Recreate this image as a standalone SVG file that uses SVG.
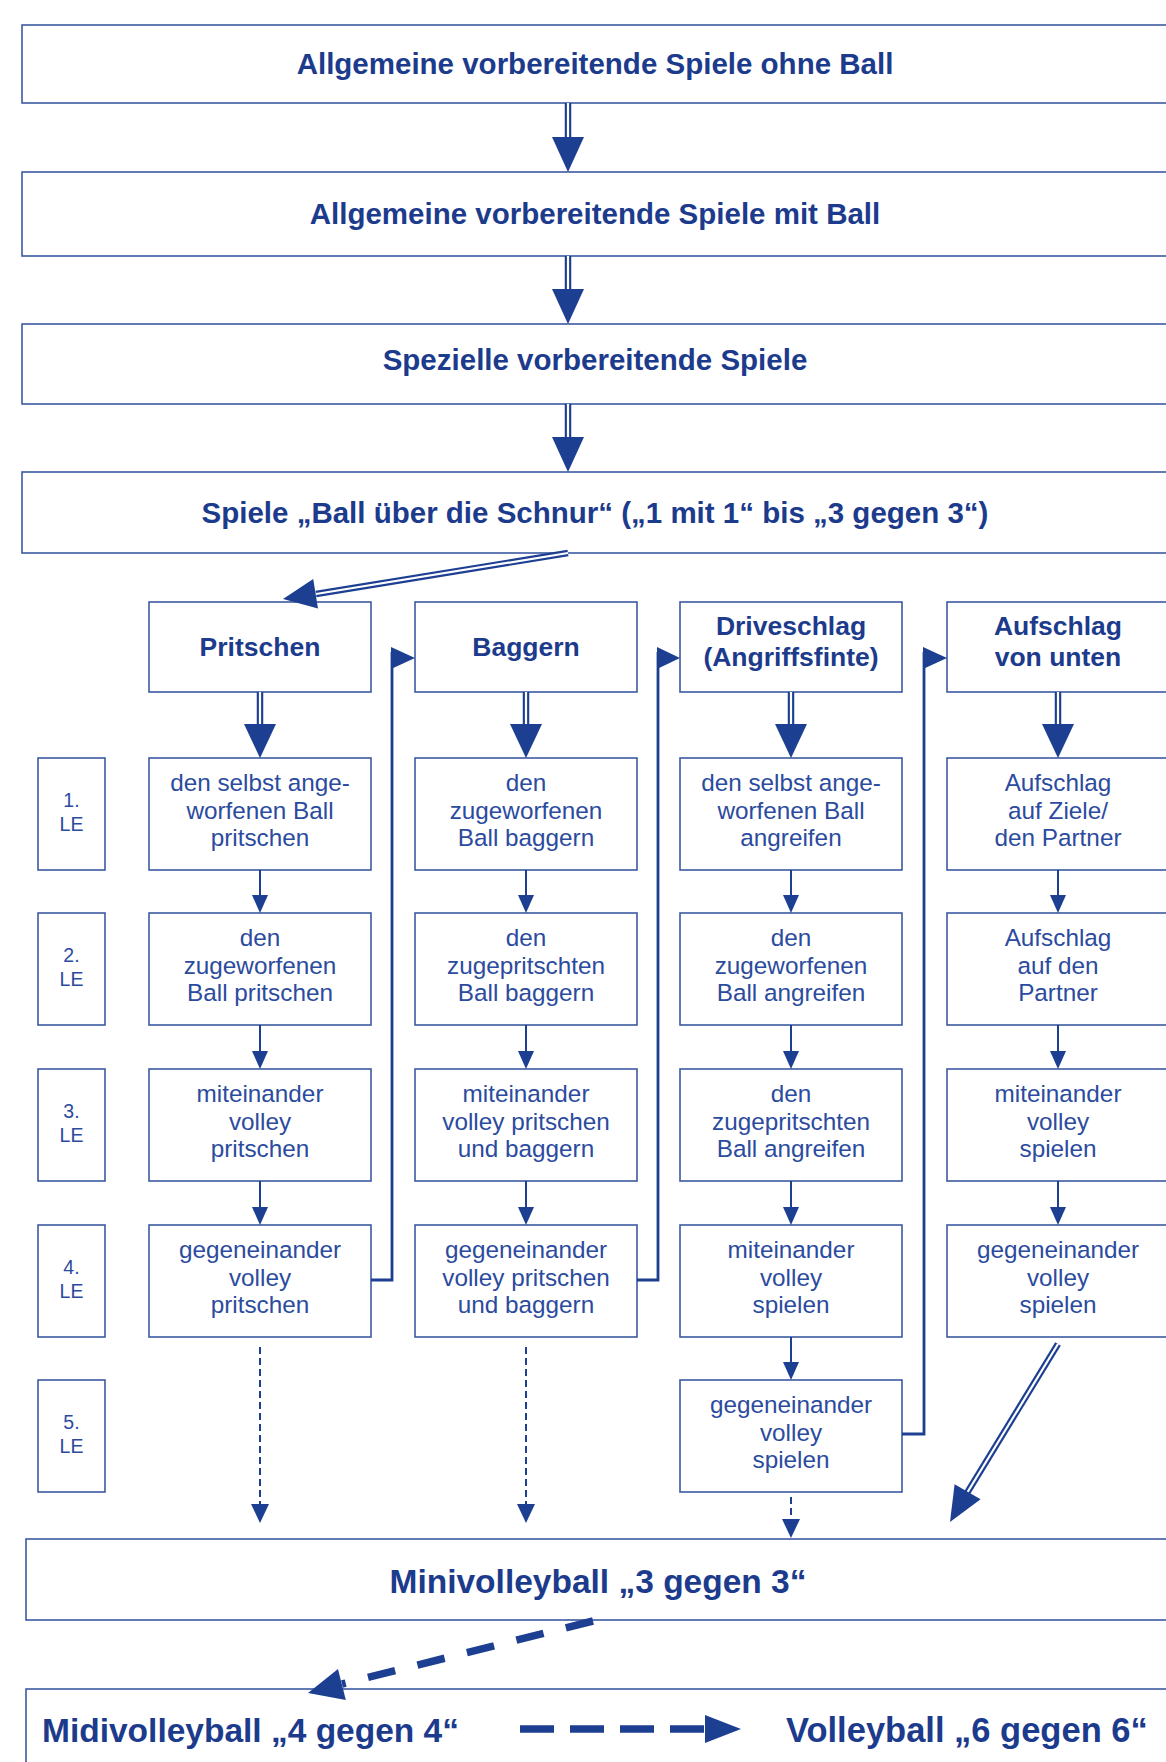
<svg xmlns="http://www.w3.org/2000/svg" width="1166" height="1762" viewBox="0 0 1166 1762">
<style>
.bx{fill:#fff;stroke:#3d5aa3;stroke-width:1.6}
.big{font-family:"Liberation Sans",Arial,sans-serif;font-weight:bold;fill:#1c3b8c;font-size:29.5px;text-anchor:middle}
.hd{font-family:"Liberation Sans",Arial,sans-serif;font-weight:bold;fill:#1c3b8c;font-size:26.5px;text-anchor:middle}
.t{font-family:"Liberation Sans",Arial,sans-serif;fill:#2b4b9e;font-size:24.3px;text-anchor:middle}
.le{font-family:"Liberation Sans",Arial,sans-serif;fill:#2b4b9e;font-size:19.5px;text-anchor:middle}
.bot{font-family:"Liberation Sans",Arial,sans-serif;font-weight:bold;fill:#1c3b8c;font-size:33.5px}
.dbl{stroke:#1d3f92;stroke-width:6.5;fill:none}
.dbi{stroke:#fff;stroke-width:2.2;fill:none}
.ah{fill:#1d3f92;stroke:none}
.ln{stroke:#1d3f92;stroke-width:2;fill:none}
.ln3{stroke:#1d3f92;stroke-width:2.8;fill:none}
.dsh{stroke:#1d3f92;stroke-width:2;fill:none;stroke-dasharray:7 4}
.thk{stroke:#1d3f92;stroke-width:7.5;fill:none}
</style>
<rect width="1166" height="1762" fill="#fff"/>

<!-- top boxes -->
<g id="n_ohne"><rect class="bx" x="22" y="25" width="1170" height="78"/><text class="big" x="595" y="74">Allgemeine vorbereitende Spiele ohne Ball</text></g>
<g id="n_mit"><rect class="bx" x="22" y="172" width="1170" height="84"/><text class="big" x="595" y="224">Allgemeine vorbereitende Spiele mit Ball</text></g>
<g id="n_spez"><rect class="bx" x="22" y="324" width="1170" height="80"/><text class="big" x="595" y="370">Spezielle vorbereitende Spiele</text></g>
<g id="n_schnur"><rect class="bx" x="22" y="472" width="1170" height="81"/><text class="big" x="595" y="523">Spiele „Ball über die Schnur“ („1 mit 1“ bis „3 gegen 3“)</text></g>

<!-- column headers -->
<g id="h_pritschen"><rect class="bx" x="149" y="602" width="222" height="90"/><text class="hd" x="260" y="656">Pritschen</text></g>
<g id="h_baggern"><rect class="bx" x="415" y="602" width="222" height="90"/><text class="hd" x="526" y="656">Baggern</text></g>
<g id="h_drive"><rect class="bx" x="680" y="602" width="222" height="90"/><text class="hd" x="791" y="635">Driveschlag</text><text class="hd" x="791" y="666">(Angriffsfinte)</text></g>
<g id="h_aufschlag"><rect class="bx" x="947" y="602" width="222" height="90"/><text class="hd" x="1058" y="635">Aufschlag</text><text class="hd" x="1058" y="666">von unten</text></g>

<!-- LE boxes -->
<g id="le1"><rect class="bx" x="38" y="758" width="67" height="112"/><text class="le" x="71.5" y="807">1.</text><text class="le" x="71.5" y="831">LE</text></g>
<g id="le2"><rect class="bx" x="38" y="913" width="67" height="112"/><text class="le" x="71.5" y="962">2.</text><text class="le" x="71.5" y="986">LE</text></g>
<g id="le3"><rect class="bx" x="38" y="1069" width="67" height="112"/><text class="le" x="71.5" y="1118">3.</text><text class="le" x="71.5" y="1142">LE</text></g>
<g id="le4"><rect class="bx" x="38" y="1225" width="67" height="112"/><text class="le" x="71.5" y="1274">4.</text><text class="le" x="71.5" y="1298">LE</text></g>
<g id="le5"><rect class="bx" x="38" y="1380" width="67" height="112"/><text class="le" x="71.5" y="1429">5.</text><text class="le" x="71.5" y="1453">LE</text></g>

<!-- Pritschen column -->
<g id="p1"><rect class="bx" x="149" y="758" width="222" height="112"/><text class="t" x="260" y="791">den selbst ange-</text><text class="t" x="260" y="818.5">worfenen Ball</text><text class="t" x="260" y="846">pritschen</text></g>
<g id="p2"><rect class="bx" x="149" y="913" width="222" height="112"/><text class="t" x="260" y="946">den</text><text class="t" x="260" y="973.5">zugeworfenen</text><text class="t" x="260" y="1001">Ball pritschen</text></g>
<g id="p3"><rect class="bx" x="149" y="1069" width="222" height="112"/><text class="t" x="260" y="1102">miteinander</text><text class="t" x="260" y="1129.5">volley</text><text class="t" x="260" y="1157">pritschen</text></g>
<g id="p4"><rect class="bx" x="149" y="1225" width="222" height="112"/><text class="t" x="260" y="1258">gegeneinander</text><text class="t" x="260" y="1285.5">volley</text><text class="t" x="260" y="1313">pritschen</text></g>

<!-- Baggern column -->
<g id="b1"><rect class="bx" x="415" y="758" width="222" height="112"/><text class="t" x="526" y="791">den</text><text class="t" x="526" y="818.5">zugeworfenen</text><text class="t" x="526" y="846">Ball baggern</text></g>
<g id="b2"><rect class="bx" x="415" y="913" width="222" height="112"/><text class="t" x="526" y="946">den</text><text class="t" x="526" y="973.5">zugepritschten</text><text class="t" x="526" y="1001">Ball baggern</text></g>
<g id="b3"><rect class="bx" x="415" y="1069" width="222" height="112"/><text class="t" x="526" y="1102">miteinander</text><text class="t" x="526" y="1129.5">volley pritschen</text><text class="t" x="526" y="1157">und baggern</text></g>
<g id="b4"><rect class="bx" x="415" y="1225" width="222" height="112"/><text class="t" x="526" y="1258">gegeneinander</text><text class="t" x="526" y="1285.5">volley pritschen</text><text class="t" x="526" y="1313">und baggern</text></g>

<!-- Driveschlag column -->
<g id="d1"><rect class="bx" x="680" y="758" width="222" height="112"/><text class="t" x="791" y="791">den selbst ange-</text><text class="t" x="791" y="818.5">worfenen Ball</text><text class="t" x="791" y="846">angreifen</text></g>
<g id="d2"><rect class="bx" x="680" y="913" width="222" height="112"/><text class="t" x="791" y="946">den</text><text class="t" x="791" y="973.5">zugeworfenen</text><text class="t" x="791" y="1001">Ball angreifen</text></g>
<g id="d3"><rect class="bx" x="680" y="1069" width="222" height="112"/><text class="t" x="791" y="1102">den</text><text class="t" x="791" y="1129.5">zugepritschten</text><text class="t" x="791" y="1157">Ball angreifen</text></g>
<g id="d4"><rect class="bx" x="680" y="1225" width="222" height="112"/><text class="t" x="791" y="1258">miteinander</text><text class="t" x="791" y="1285.5">volley</text><text class="t" x="791" y="1313">spielen</text></g>
<g id="d5"><rect class="bx" x="680" y="1380" width="222" height="112"/><text class="t" x="791" y="1413">gegeneinander</text><text class="t" x="791" y="1440.5">volley</text><text class="t" x="791" y="1468">spielen</text></g>

<!-- Aufschlag column -->
<g id="a1"><rect class="bx" x="947" y="758" width="222" height="112"/><text class="t" x="1058" y="791">Aufschlag</text><text class="t" x="1058" y="818.5">auf Ziele/</text><text class="t" x="1058" y="846">den Partner</text></g>
<g id="a2"><rect class="bx" x="947" y="913" width="222" height="112"/><text class="t" x="1058" y="946">Aufschlag</text><text class="t" x="1058" y="973.5">auf den</text><text class="t" x="1058" y="1001">Partner</text></g>
<g id="a3"><rect class="bx" x="947" y="1069" width="222" height="112"/><text class="t" x="1058" y="1102">miteinander</text><text class="t" x="1058" y="1129.5">volley</text><text class="t" x="1058" y="1157">spielen</text></g>
<g id="a4"><rect class="bx" x="947" y="1225" width="222" height="112"/><text class="t" x="1058" y="1258">gegeneinander</text><text class="t" x="1058" y="1285.5">volley</text><text class="t" x="1058" y="1313">spielen</text></g>

<!-- bottom boxes -->
<g id="n_mini"><rect class="bx" x="26" y="1539" width="1170" height="81"/><text class="big" style="font-size:33.5px" x="598" y="1593">Minivolleyball „3 gegen 3“</text></g>
<g id="n_bottom"><rect class="bx" x="26" y="1689" width="1170" height="100"/><text class="bot" x="42" y="1742">Midivolleyball „4 gegen 4“</text><text class="bot" x="786" y="1742" style="font-size:34.5px">Volleyball „6 gegen 6“</text></g>

<!-- connectors -->
<g id="connectors">
  <!-- top double arrows -->
  <line class="dbl" x1="568" y1="103" x2="568" y2="139"/><line class="dbi" x1="568" y1="103" x2="568" y2="139"/>
  <polygon class="ah" points="552,137 584,137 568,172"/>
  <line class="dbl" x1="568" y1="256" x2="568" y2="291"/><line class="dbi" x1="568" y1="256" x2="568" y2="291"/>
  <polygon class="ah" points="552,289 584,289 568,324"/>
  <line class="dbl" x1="568" y1="404" x2="568" y2="439"/><line class="dbi" x1="568" y1="404" x2="568" y2="439"/>
  <polygon class="ah" points="552,437 584,437 568,472"/>
  <!-- diagonal to Pritschen -->
  <line class="dbl" x1="568" y1="553" x2="316" y2="594"/><line class="dbi" x1="568" y1="553" x2="316" y2="594"/>
  <polygon class="ah" points="318,608.5 313.2,578.9 283,599"/>
  <!-- header to first row double arrows -->
  <line class="dbl" x1="260" y1="692" x2="260" y2="725"/><line class="dbi" x1="260" y1="692" x2="260" y2="725"/>
  <polygon class="ah" points="244,724 276,724 260,758"/>
  <line class="dbl" x1="526" y1="692" x2="526" y2="725"/><line class="dbi" x1="526" y1="692" x2="526" y2="725"/>
  <polygon class="ah" points="510,724 542,724 526,758"/>
  <line class="dbl" x1="791" y1="692" x2="791" y2="725"/><line class="dbi" x1="791" y1="692" x2="791" y2="725"/>
  <polygon class="ah" points="775,724 807,724 791,758"/>
  <line class="dbl" x1="1058" y1="692" x2="1058" y2="725"/><line class="dbi" x1="1058" y1="692" x2="1058" y2="725"/>
  <polygon class="ah" points="1042,724 1074,724 1058,758"/>
  <!-- single arrows between rows -->
  <g>
    <line class="ln" x1="260" y1="870" x2="260" y2="897"/><polygon class="ah" points="252,895 268,895 260,913"/>
    <line class="ln" x1="260" y1="1025" x2="260" y2="1053"/><polygon class="ah" points="252,1051 268,1051 260,1069"/>
    <line class="ln" x1="260" y1="1181" x2="260" y2="1209"/><polygon class="ah" points="252,1207 268,1207 260,1225"/>
    <line class="ln" x1="526" y1="870" x2="526" y2="897"/><polygon class="ah" points="518,895 534,895 526,913"/>
    <line class="ln" x1="526" y1="1025" x2="526" y2="1053"/><polygon class="ah" points="518,1051 534,1051 526,1069"/>
    <line class="ln" x1="526" y1="1181" x2="526" y2="1209"/><polygon class="ah" points="518,1207 534,1207 526,1225"/>
    <line class="ln" x1="791" y1="870" x2="791" y2="897"/><polygon class="ah" points="783,895 799,895 791,913"/>
    <line class="ln" x1="791" y1="1025" x2="791" y2="1053"/><polygon class="ah" points="783,1051 799,1051 791,1069"/>
    <line class="ln" x1="791" y1="1181" x2="791" y2="1209"/><polygon class="ah" points="783,1207 799,1207 791,1225"/>
    <line class="ln" x1="791" y1="1337" x2="791" y2="1364"/><polygon class="ah" points="783,1362 799,1362 791,1380"/>
    <line class="ln" x1="1058" y1="870" x2="1058" y2="897"/><polygon class="ah" points="1050,895 1066,895 1058,913"/>
    <line class="ln" x1="1058" y1="1025" x2="1058" y2="1053"/><polygon class="ah" points="1050,1051 1066,1051 1058,1069"/>
    <line class="ln" x1="1058" y1="1181" x2="1058" y2="1209"/><polygon class="ah" points="1050,1207 1066,1207 1058,1225"/>
  </g>
  <!-- elbow connectors to next column header -->
  <polyline class="ln3" points="371,1280 392,1280 392,652"/><polygon class="ah" points="391,647 415,658 391,669"/>
  <polyline class="ln3" points="637,1280 658,1280 658,652"/><polygon class="ah" points="657,647 680,658 657,669"/>
  <polyline class="ln3" points="902,1434 924,1434 924,652"/><polygon class="ah" points="923,647 947,658 923,669"/>
  <!-- dashed arrows to Minivolleyball -->
  <line class="dsh" x1="260" y1="1347" x2="260" y2="1506"/><polygon class="ah" points="251,1504 269,1504 260,1523"/>
  <line class="dsh" x1="526" y1="1347" x2="526" y2="1506"/><polygon class="ah" points="517,1504 535,1504 526,1523"/>
  <line class="dsh" x1="791" y1="1497" x2="791" y2="1521"/><polygon class="ah" points="782,1519 800,1519 791,1538"/>
  <!-- Aufschlag diagonal -->
  <line class="dbl" x1="1058" y1="1344" x2="967" y2="1493"/><line class="dbi" x1="1058" y1="1344" x2="967" y2="1493"/>
  <polygon class="ah" points="980.6,1499.2 954.6,1484.2 950,1522"/>
  <!-- Mini to Midi thick dashed -->
  <line class="thk" x1="593" y1="1621" x2="342" y2="1684" stroke-dasharray="28 23"/>
  <polygon class="ah" points="345.8,1699.9 338,1668.9 308,1693"/>
  <!-- Midi to Volleyball -->
  <line class="thk" x1="520" y1="1729" x2="706" y2="1729" stroke-dasharray="34 16"/>
  <polygon class="ah" points="705,1715 741,1729 705,1743"/>
</g>
</svg>
